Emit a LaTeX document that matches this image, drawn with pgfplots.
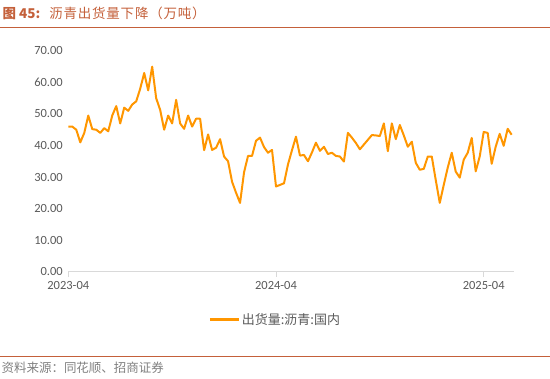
\documentclass[border=0pt]{standalone}
\usepackage{fontspec}
\setmainfont{Carlito}
\newfontfamily\cjk{Noto Sans CJK SC}
\newfontfamily\cjktitle[LetterSpace=6]{Noto Sans CJK SC}
\usepackage{pgfplots}
\pgfplotsset{compat=1.18}
\definecolor{lineorange}{RGB}{255,150,0}
\definecolor{titlecol}{RGB}{196,96,58}
\definecolor{tickgray}{RGB}{89,89,89}
\definecolor{axgray}{RGB}{217,217,217}
\begin{document}
\begin{tikzpicture}[x=1pt,y=1pt]
\path (0,0) rectangle (550,379);
% title
\node[anchor=west, text=titlecol, inner sep=0pt] at (2,366) {{\cjk\bfseries\fontsize{13.5}{16}\selectfont 图 45:}\hspace{9pt}{\cjktitle\fontsize{13.5}{16}\selectfont 沥青出货量下降（万吨）}};
\draw[titlecol, line width=0.8pt] (0,352) -- (550,352);
\draw[titlecol, line width=0.8pt] (0,22) -- (550,22);
\node[anchor=west, text=gray, inner sep=0pt, font=\cjk\fontsize{12.5}{14}\selectfont] at (1,11) {资料来源：同花顺、招商证券};
\begin{axis}[
  at={(68pt,107pt)}, anchor=origin,
  scale only axis, width=446pt, height=221pt,
  xmin=0, xmax=111.5, ymin=0, ymax=70,
  axis x line*=bottom, axis y line*=left,
  x axis line style={axgray, line width=0.8pt, -},
  y axis line style={draw=none},
  xtick={0,52,104}, xticklabels={2023-04,2024-04,2025-04},
  xtick style={axgray, line width=0.8pt},
  ytick style={draw=none},
  xtick align=outside, major tick length=5pt,
  ytick={0,10,...,70},
  tick label style={text=tickgray, font=\fontsize{12.5}{14}\selectfont},
  /pgf/number format/assume math mode=true,
  yticklabel={\pgfmathprintnumber[fixed,zerofill,precision=2]{\tick}},
  yticklabel style={anchor=east, xshift=-2pt},
  xticklabel style={yshift=-1pt},
  legend style={at={(0.465,0)}, anchor=center, yshift=-48pt, draw=none, fill=none,
    font=\cjk\fontsize{13}{15}\selectfont, text=tickgray},
  legend image code/.code={\draw[#1, line width=2.2pt] (0pt,0pt) -- (29pt,0pt);},
  legend cell align=left,
]
\addplot[lineorange, line width=2pt, line join=round] coordinates {
(0,46) (1,46) (2,45) (3,41) (4,44) (5,49.5) (6,45.2) (7,45) (8,44) (9,45.5)
(10,44.5) (11,49.5) (12,52.5) (13,47) (14,52) (15,51) (16,53) (17,54) (18,58) (19,63)
(20,57.5) (21,65) (22,55) (23,51.3) (24,45) (25,49.5) (26,47) (27,54.5) (28,47) (29,45.3)
(30,49.5) (31,46) (32,48.5) (33,48.5) (34,38.5) (35,43.5) (36,38.6) (37,39.3) (38,42) (39,36.5)
(40,35) (41,28.5) (42,25) (43,21.8) (44,31.5) (45,36.7) (46,36.7) (47,41.5) (48,42.5) (49,39.5)
(50,37.7) (51,38.6) (52,27) (53,27.5) (54,28) (55,34) (56,38.5) (57,42.8) (58,36.8) (59,37)
(60,35) (61,37.8) (62,40.9) (63,38.3) (64,39.6) (65,37.3) (66,37.7) (67,36.7) (68,36.5) (69,34.9)
(70,44) (71,42.5) (72,40.8) (73,38.8) (74,40.3) (75,41.8) (76,43.3) (77,43.2) (78,43) (79,47)
(80,38.2) (81,47) (82,42) (83,46.5) (84,43.2) (85,39.6) (86,41.2) (87,34.5) (88,32.3) (89,32.6)
(90,36.5) (91,36.5) (92,29) (93,21.8) (94,27.5) (95,33) (96,37.7) (97,31.7) (98,29.8) (99,35.5)
(100,37.7) (101,42.4) (102,31.8) (103,36.5) (104,44.3) (105,44) (106,34.2) (107,39.6) (108,43.7) (109,39.9)
(110,45.3) (111,43.4)
};
\addlegendentry{出货量:沥青:国内}
\end{axis}
\end{tikzpicture}
\end{document}
